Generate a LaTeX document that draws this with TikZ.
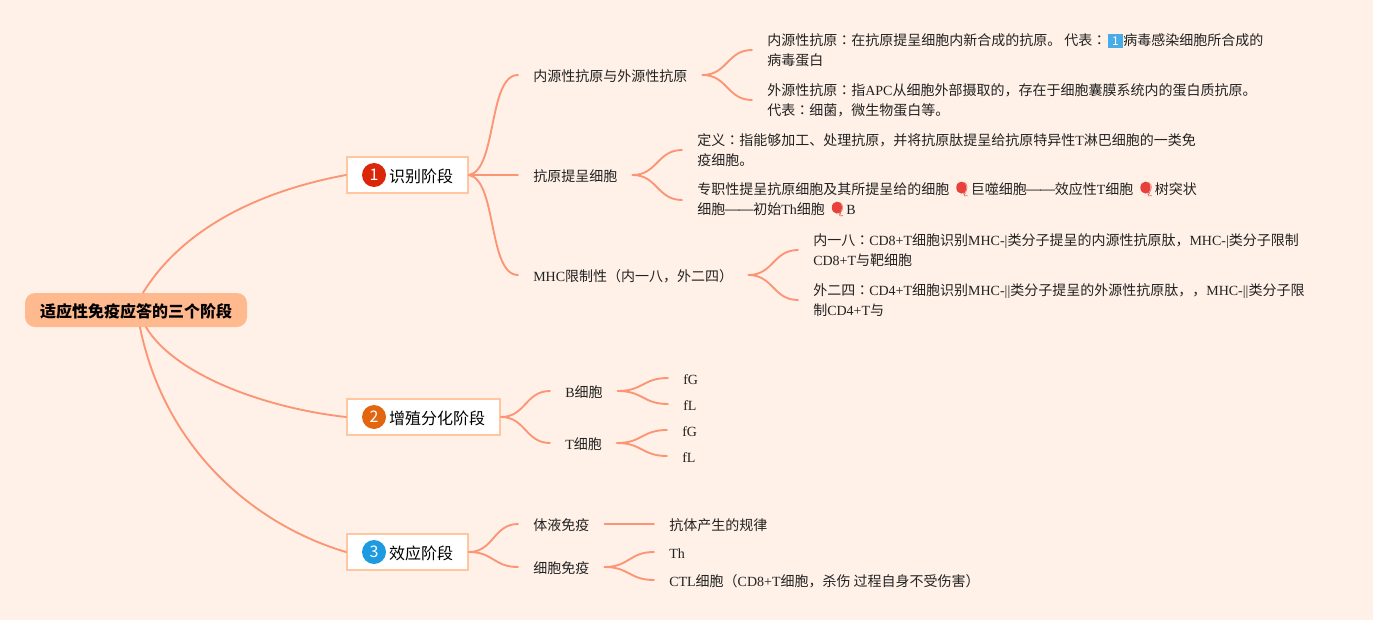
\documentclass[tikz,border=0pt]{standalone}
\usepackage{fontspec}
\usepackage{graphicx}
\usetikzlibrary{calc}
\setmainfont{Noto Sans CJK SC}
\newfontfamily\latf{Liberation Serif}
\newfontfamily\tcf{Noto Sans CJK TC}
\newfontfamily\emojif{Noto Emoji}
\definecolor{bgc}{HTML}{FFF1E7}
\definecolor{linec}{HTML}{FC9575}
\definecolor{rootc}{HTML}{FFB98F}
\definecolor{boxc}{HTML}{FFC6A0}
\definecolor{kc}{HTML}{48ACE6}
\definecolor{ballc}{HTML}{E8403A}
\definecolor{bar}{HTML}{222222}
\newcommand\la[1]{{\latf #1}}
\newcommand\cln{{\tcf ：}}
\newcommand\dd{\makebox[10.5pt]{\resizebox{12.5pt}{\height}{—}}}
\newcommand\ball{\makebox[13.8pt][l]{\hspace*{1.5pt}\rlap{\tikz[baseline=0pt,x=1pt,y=1pt]{\useasboundingbox (0,0);\fill[ballc] (5.2,5.4) ellipse (3.8 and 4.5);}}\textcolor{ballc}{\emojif 🎈}}}
\newcommand\keyone{\hspace{1pt}{\setlength{\fboxsep}{0pt}\colorbox{kc}{\makebox[11.5pt]{\rule[-2.25pt]{0pt}{10.5pt}\textcolor{white}{\fontsize{9}{9}\selectfont 1}}}}\hspace{0.3pt}}
\newcommand\lstrut{\rule[-2.6pt]{0pt}{15pt}}
\newcommand\lo[1]{\raisebox{-1.5pt}{#1}}
\tikzset{
  px/.style={x=0.75pt,y=-0.75pt},
  conn/.style={draw=linec,line width=1.4pt,line cap=round},
  leaf/.style={anchor=west,inner xsep=11.25pt,inner ysep=0pt,align=left,text=bar,
    font=\fontsize{10.5}{15}\selectfont,execute at begin node=\lstrut,execute at end node=\lstrut},
  rootbox/.style={fill=rootc,rounded corners=7.5pt,inner sep=0pt,minimum width=166.5pt,minimum height=25.5pt,
    font=\fontsize{12}{15}\selectfont\bfseries,text=black,text height=12.3pt,text depth=1.7pt},
  topic/.style={fill=white,draw=boxc,line width=1.5pt,inner sep=0pt,minimum height=27pt,
    font=\fontsize{12}{15}\selectfont,text=black,text height=12.3pt,text depth=1.7pt},
  badge/.style={circle,inner sep=0pt,minimum size=18pt,text=white,font=\fontsize{12}{12}\selectfont},
}
\newcommand\fork[2]{\draw[conn] (#1) .. controls ($(#1)!0.5!(#2 |- #1)$) and ($(#2)!0.5!(#1 |- #2)$) .. (#2);}
\begin{document}
\begin{tikzpicture}[px]
\useasboundingbox (0,0) rectangle (1373,620);
\fill[bgc] (0,0) rectangle (1373,620);

\node[rootbox] (root) at (136,310) {适应性免疫应答的三个阶段};
\node[topic,minimum width=90.75pt] (t1) at (407.5,175) {\hspace*{20.25pt}识别阶段};
\node[topic,minimum width=114.75pt] (t2) at (423.5,417) {\hspace*{20.25pt}增殖分化阶段};
\node[topic,minimum width=90.75pt] (t3) at (407.5,552) {\hspace*{20.25pt}效应阶段};
\node[badge,fill={rgb,255:red,220;green,38;blue,10}] (b1) at (374,175) {1};
\node[badge,fill={rgb,255:red,226;green,102;blue,15}] (b2) at (374,417) {2};
\node[badge,fill={rgb,255:red,30;green,155;blue,224}] (b3) at (374,552) {3};

\node[leaf] (a) at (518,75) {内源性抗原与外源性抗原};
\node[leaf] (a1) at (752,50) {\lo{内源性抗原\cln 在抗原提呈细胞内新合成的抗原。 代表\cln\keyone 病毒感染细胞所合成的}\\\lo{病毒蛋白}};
\node[leaf] (a2) at (752,100) {\lo{外源性抗原\cln 指\la{APC}从细胞外部摄取的，存在于细胞囊膜系统内的蛋白质抗原。}\\\lo{代表\cln 细菌，微生物蛋白等。}};
\node[leaf] (b) at (518,175) {抗原提呈细胞};
\node[leaf] (bb1) at (682,150) {\lo{定义\cln 指能够加工、处理抗原，并将抗原肽提呈给抗原特异性\la{T}淋巴细胞的一类免}\\\lo{疫细胞。}};
\node[leaf] (bb2) at (682,200) {\lo{专职性提呈抗原细胞及其所提呈给的细胞 \ball 巨噬细胞\dd\dd 效应性\la{T}细胞 \ball 树突状}\\\lo{细胞\dd\dd 初始\la{Th}细胞 \ball\la{B}}};
\node[leaf] (c) at (518,275) {\la{MHC}限制性（内一八，外二四）};
\node[leaf] (c1) at (798,250) {\lo{内一八\cln\la{CD8+T}细胞识别\la{MHC-|}类分子提呈的内源性抗原肽，\la{MHC-|}类分子限制}\\\lo{\la{CD8+T}与靶细胞}};
\node[leaf] (c2) at (798,300) {\lo{外二四\cln\la{CD4+T}细胞识别\la{MHC-||}类分子提呈的外源性抗原肽，，\la{MHC-||}类分子限}\\\lo{制\la{CD4+T}与}};

\node[leaf] (d) at (550,391) {\la{B}细胞};
\node[leaf] (e) at (550,443) {\la{T}细胞};
\node[leaf] (d1) at (668,378) {\la{fG}};
\node[leaf] (d2) at (668,404) {\la{fL}};
\node[leaf] (e1) at (667,430) {\la{fG}};
\node[leaf] (e2) at (667,456) {\la{fL}};

\node[leaf] (f) at (518,524) {体液免疫};
\node[leaf] (g) at (518,567) {细胞免疫};
\node[leaf] (f1) at (654,524) {抗体产生的规律};
\node[leaf] (g1) at (654,552) {\la{Th}};
\node[leaf] (g2) at (654,580) {\la{CTL}细胞（\la{CD8+T}细胞，杀伤 过程自身不受伤害）};

% root to topics
\draw[conn] ([xshift=5.25pt]root.north) .. controls (185,225) and (265,190) .. (t1.west);
\draw[conn] ([xshift=7.5pt]root.south) .. controls (175,375) and (265,408) .. (t2.west);
\draw[conn] ([xshift=3pt]root.south) .. controls (165,450) and (255,525) .. (t3.west);

% topic 1
\draw[conn] (t1.east) .. controls (497,170) and (488,75) .. (a.west);
\draw[conn] (t1.east) -- (b.west);
\draw[conn] (t1.east) .. controls (497,180) and (488,275) .. (c.west);
\fork{a.east}{a1.west}
\fork{a.east}{a2.west}
\fork{b.east}{bb1.west}
\fork{b.east}{bb2.west}
\fork{c.east}{c1.west}
\fork{c.east}{c2.west}

% topic 2
\fork{t2.east}{d.west}
\fork{t2.east}{e.west}
\fork{d.east}{d1.west}
\fork{d.east}{d2.west}
\fork{e.east}{e1.west}
\fork{e.east}{e2.west}

% topic 3
\fork{t3.east}{f.west}
\fork{t3.east}{g.west}
\draw[conn] (f.east) -- (f1.west);
\fork{g.east}{g1.west}
\fork{g.east}{g2.west}
\end{tikzpicture}
\end{document}
